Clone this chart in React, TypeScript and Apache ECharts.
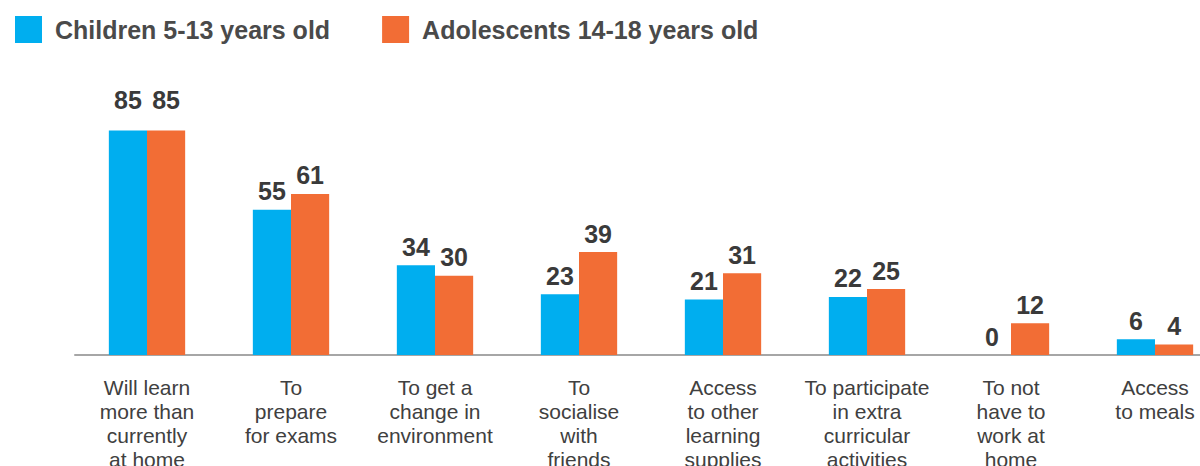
import React, { useEffect, useRef } from "react";
import * as echarts from "echarts";

const categories: string[] = [
  "Will learn\nmore than\ncurrently\nat home",
  "To\nprepare\nfor exams",
  "To get a\nchange in\nenvironment",
  "To\nsocialise\nwith\nfriends",
  "Access\nto other\nlearning\nsupplies",
  "To participate\nin extra\ncurricular\nactivities",
  "To not\nhave to\nwork at\nhome",
  "Access\nto meals",
];

const seriesNames: string[] = ["Children 5-13 years old", "Adolescents 14-18 years old"];
const children: number[] = [85, 55, 34, 23, 21, 22, 0, 6];
const adolescents: number[] = [85, 61, 30, 39, 31, 25, 12, 4];

const FONT = "'Liberation Sans', Arial, sans-serif";

function buildData(values: number[]) {
  return values.map((v, i) =>
    i === 0 ? { value: v, label: { distance: 18 } } : v
  );
}

export default function App() {
  const ref = useRef<HTMLDivElement>(null);

  useEffect(() => {
    if (!ref.current) return;
    const chart = echarts.init(ref.current, null, { renderer: "svg" });
    const labelCfg = {
      show: true,
      position: "top",
      distance: 6,
      fontFamily: FONT,
      fontSize: 25,
      fontWeight: "bold",
      color: "#3a3a3a",
    };
    chart.setOption({
      animation: false,
      backgroundColor: "#ffffff",
      legend: {
        left: 10,
        top: 11,
        icon: "rect",
        itemWidth: 27,
        itemHeight: 27,
        itemGap: 52,
        textStyle: {
          fontFamily: FONT,
          fontSize: 25,
          fontWeight: "bold",
          color: "#4a4a4a",
          padding: [0, 0, 0, 8],
        },
        data: seriesNames,
      },
      grid: {
        left: 75,
        top: 91,
        width: 1152,
        height: 264,
        outerBoundsMode: "none",
        containLabel: false,
      },
      xAxis: {
        type: "category",
        data: categories,
        axisLine: { show: true, lineStyle: { color: "#a6a6a6", width: 2 } },
        axisTick: { show: false },
        axisLabel: {
          interval: 0,
          margin: 20,
          fontFamily: FONT,
          fontSize: 21,
          lineHeight: 24,
          color: "#404040",
          align: "center",
        },
      },
      yAxis: {
        type: "value",
        min: 0,
        max: 100,
        show: false,
        splitLine: { show: false },
      },
      series: [
        {
          name: seriesNames[0],
          type: "bar",
          data: buildData(children),
          barGap: "0%",
          barCategoryGap: "47%",
          itemStyle: { color: "#00AEEF" },
          label: labelCfg,
        },
        {
          name: seriesNames[1],
          type: "bar",
          data: buildData(adolescents),
          barGap: "0%",
          barCategoryGap: "47%",
          itemStyle: { color: "#F26D35" },
          label: labelCfg,
        },
      ],
    });
    return () => chart.dispose();
  }, []);

  return (
    <div
      ref={ref}
      style={{ position: "fixed", left: 0, top: 0, width: 1200, height: 466 }}
    />
  );
}
